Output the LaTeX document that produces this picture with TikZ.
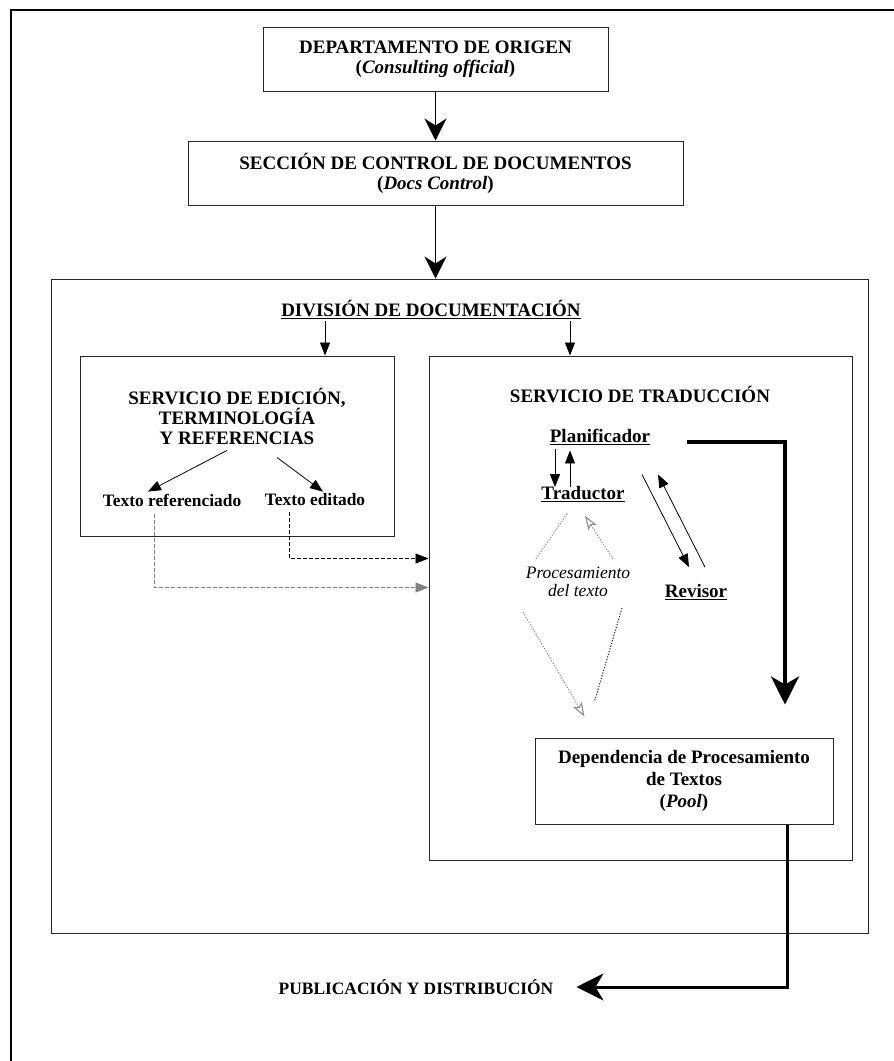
\documentclass[tikz,border=0pt]{standalone}
\usepackage{fontspec}
\setmainfont{Liberation Serif}
\usetikzlibrary{positioning,calc,arrows.meta}

\begin{document}
\begin{tikzpicture}[x=1pt, y=-1pt, node distance=49pt,
  every node/.style={align=center, inner sep=2pt, font=\fontsize{19}{20}\selectfont\bfseries},
  box/.style={draw=black!85, line width=1pt, inner sep=0pt},
  smalltxt/.style={font=\fontsize{17.4}{19}\selectfont\bfseries},
  mainarr/.style={-{Stealth[length=22pt,width=22pt,inset=7pt]}, line width=1.5pt},
  arr/.style={-{Triangle[length=13pt,width=10pt]}, line width=0.8pt},
  procline/.style={black!45, dash pattern=on 1.2pt off 1.6pt, line width=1.1pt},
  procarr/.style={-{Stealth[open,length=14pt,width=10pt,inset=3pt]}}]
\useasboundingbox (0,0) rectangle (894,1061);
\draw[line width=2pt] (11,1061) -- (11,10) -- (894,10);

\node (dep) [box, minimum width=345pt, minimum height=64pt] at (435.5,59) {DEPARTAMENTO DE ORIGEN\\(\textit{Consulting official})};
\node (sec) [box, below=of dep, minimum width=495pt, minimum height=64pt] {SECCIÓN DE CONTROL DE DOCUMENTOS\\(\textit{Docs Control})};

% division
\node (div) [box, minimum width=817pt, minimum height=654pt] at (459.5,606) {};
\node (divtit) at (431,309.5) {\underline{DIVISIÓN DE DOCUMENTACIÓN}};

% edicion
\node (sed) [box, minimum width=314pt, minimum height=180pt] at (237,446) {};
\node (sedtit) at (237,416) {SERVICIO DE EDICIÓN,\\TERMINOLOGÍA\\Y REFERENCIAS};
\node (tref) [smalltxt] at (172,500) {Texto referenciado};
\node (ted) [smalltxt] at (315,500) {Texto editado};

% traduccion
\node (trd) [box, minimum width=423pt, minimum height=504pt] at (640.5,608) {};
\node (trdtit) at (640,394) {SERVICIO DE TRADUCCIÓN};
\node (plan) at (600,437) {\underline{Planificador}};
\node (trad) at (583,494) {\underline{Traductor}};
\node (rev) at (696,592) {\underline{Revisor}};
\node (proc) [font=\fontsize{17.5}{18}\selectfont\itshape] at (578,582) {Procesamiento\\del texto};
\node (pool) [box, minimum width=298pt, minimum height=86pt, font=\fontsize{19}{22}\selectfont\bfseries] at (684,781) {Dependencia de Procesamiento\\de Textos\\(\textit{Pool})};

\node (pub) [smalltxt] at (416,987) {PUBLICACIÓN Y DISTRIBUCIÓN};

\draw[mainarr] (dep) -- (sec);
\draw[mainarr] (sec.south) -- (sec.south |- div.north);
\draw[arr] ([xshift=-106pt]divtit.south) -- ([xshift=-106pt]divtit.south |- sed.north);
\draw[arr] ([xshift=139pt]divtit.south) -- ([xshift=139pt]divtit.south |- trd.north);
\draw[arr] ($(sedtit.south)+(-10,4)$) -- ([xshift=-24pt]tref.north);
\draw[arr] ($(sedtit.south)+(40,11)$) -- ([xshift=8pt]ted.north);
\draw[arr, dash pattern=on 4pt off 2pt] ([xshift=-26pt,yshift=-4pt]ted.south) |- ($(trd.north west)+(0,203)$);
\draw[arr, dash pattern=on 4pt off 2pt, draw=gray] ([xshift=-18pt,yshift=-6pt]tref.south) |- ($(trd.north west)+(0,232)$);

\draw[arr] ($(plan.south)+(-45,2.5)$) -- ($(trad.north)+(-28,3)$);
\draw[arr] ($(trad.north)+(-13,3)$) -- ($(plan.south)+(-30,3.5)$);
\draw[arr] ($(plan.south)+(42,27.5)$) -- ($(rev.north)+(-7,-15)$);
\draw[arr] ($(rev.north)+(9,-15)$) -- ($(plan.south)+(58,27.5)$);

\draw[procline] ($(trad.south)+(-16,10)$) -- ($(proc.center)+(-43,-22)$);
\draw[procline, procarr] ($(proc.center)+(35,-23)$) -- ($(trad.south)+(2,12)$);
\draw[procline, procarr] ($(proc.center)+(-55,30)$) -- ($(pool.north west)+(50,-21)$);
\draw[procline, black!80] ($(proc.center)+(44,26)$) -- ($(pool.north west)+(60,-36)$);

\draw[line width=4pt, -{Stealth[length=28pt,width=28pt,inset=8pt]}] ($(plan.east)+(35,5)$) -| ($(pool.north)+(101,-33)$);
\draw[line width=3pt, -{Stealth[length=27pt,width=27pt,inset=8pt]}] ($(pool.south)+(103,0)$) |- ($(pub.east)+(21,0)$);
\end{tikzpicture}
\end{document}
